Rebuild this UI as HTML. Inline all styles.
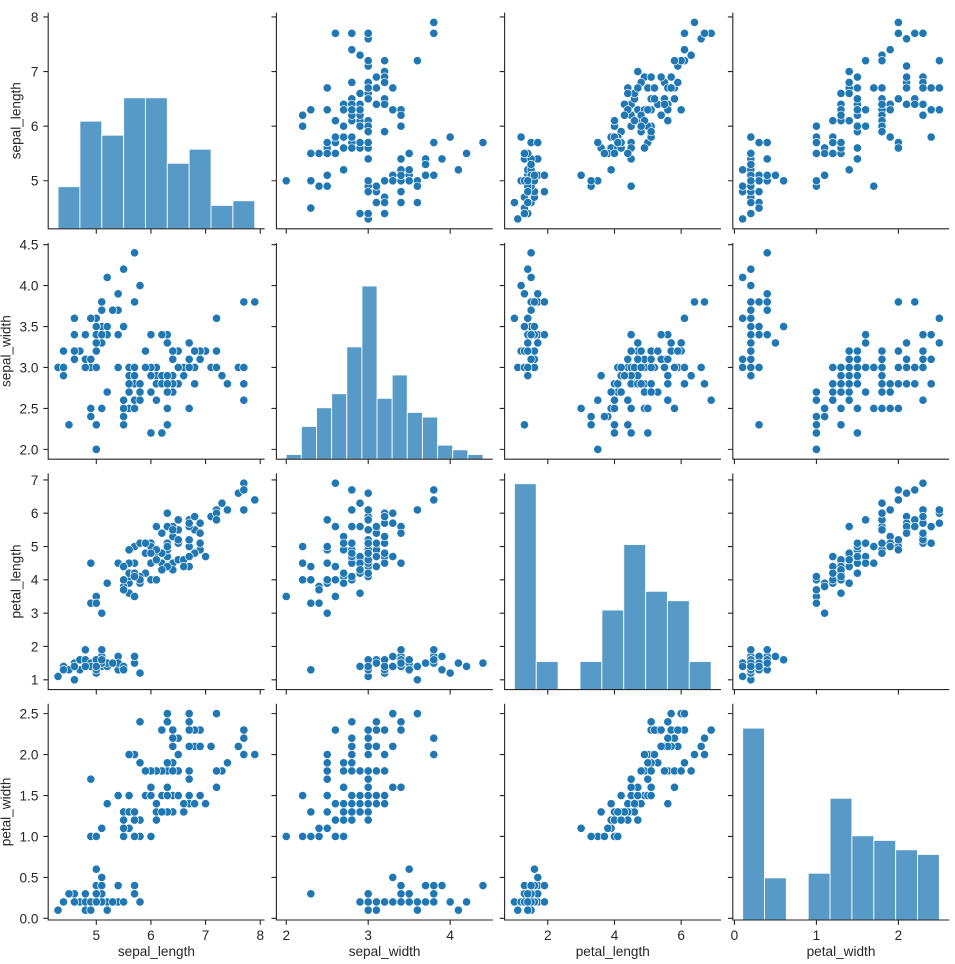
<!DOCTYPE html>
<html><head><meta charset="utf-8"><style>
html,body{margin:0;padding:0;background:#fff;}
body{width:955px;height:964px;overflow:hidden;}
svg{display:block;}
text{font-family:"Liberation Sans",Arial,sans-serif;font-size:13.6px;fill:#262626;}
</style></head><body>
<svg width="955" height="964" viewBox="0 0 955 964" xmlns="http://www.w3.org/2000/svg">
<rect width="955" height="964" fill="#fff"/>
<defs>
<marker id="m01" markerUnits="userSpaceOnUse" markerWidth="2" markerHeight="2" refX="1" refY="1" orient="0" overflow="visible"><g transform="translate(1 1) scale(0.012200 0.018316)"><circle r="4.15" fill="#1f77b4" stroke="#fff" stroke-width="0.67"/></g></marker>
<marker id="m02" markerUnits="userSpaceOnUse" markerWidth="2" markerHeight="2" refX="1" refY="1" orient="0" overflow="visible"><g transform="translate(1 1) scale(0.029990 0.018316)"><circle r="4.15" fill="#1f77b4" stroke="#fff" stroke-width="0.67"/></g></marker>
<marker id="m03" markerUnits="userSpaceOnUse" markerWidth="2" markerHeight="2" refX="1" refY="1" orient="0" overflow="visible"><g transform="translate(1 1) scale(0.012200 0.018316)"><circle r="4.15" fill="#1f77b4" stroke="#fff" stroke-width="0.67"/></g></marker>
<marker id="m12" markerUnits="userSpaceOnUse" markerWidth="2" markerHeight="2" refX="1" refY="1" orient="0" overflow="visible"><g transform="translate(1 1) scale(0.029990 0.012211)"><circle r="4.15" fill="#1f77b4" stroke="#fff" stroke-width="0.67"/></g></marker>
<marker id="m13" markerUnits="userSpaceOnUse" markerWidth="2" markerHeight="2" refX="1" refY="1" orient="0" overflow="visible"><g transform="translate(1 1) scale(0.012200 0.012211)"><circle r="4.15" fill="#1f77b4" stroke="#fff" stroke-width="0.67"/></g></marker>
<marker id="m23" markerUnits="userSpaceOnUse" markerWidth="2" markerHeight="2" refX="1" refY="1" orient="0" overflow="visible"><g transform="translate(1 1) scale(0.012200 0.030018)"><circle r="4.15" fill="#1f77b4" stroke="#fff" stroke-width="0.67"/></g></marker>
<marker id="m10" markerUnits="userSpaceOnUse" markerWidth="2" markerHeight="2" refX="1" refY="1" orient="0" overflow="visible"><g transform="translate(1 1) scale(0.012211 0.018300)"><circle r="4.15" fill="#1f77b4" stroke="#fff" stroke-width="0.67"/></g></marker>
<marker id="m20" markerUnits="userSpaceOnUse" markerWidth="2" markerHeight="2" refX="1" refY="1" orient="0" overflow="visible"><g transform="translate(1 1) scale(0.030018 0.018300)"><circle r="4.15" fill="#1f77b4" stroke="#fff" stroke-width="0.67"/></g></marker>
<marker id="m30" markerUnits="userSpaceOnUse" markerWidth="2" markerHeight="2" refX="1" refY="1" orient="0" overflow="visible"><g transform="translate(1 1) scale(0.012211 0.018300)"><circle r="4.15" fill="#1f77b4" stroke="#fff" stroke-width="0.67"/></g></marker>
<marker id="m21" markerUnits="userSpaceOnUse" markerWidth="2" markerHeight="2" refX="1" refY="1" orient="0" overflow="visible"><g transform="translate(1 1) scale(0.030018 0.012200)"><circle r="4.15" fill="#1f77b4" stroke="#fff" stroke-width="0.67"/></g></marker>
<marker id="m31" markerUnits="userSpaceOnUse" markerWidth="2" markerHeight="2" refX="1" refY="1" orient="0" overflow="visible"><g transform="translate(1 1) scale(0.012211 0.012200)"><circle r="4.15" fill="#1f77b4" stroke="#fff" stroke-width="0.67"/></g></marker>
<marker id="m32" markerUnits="userSpaceOnUse" markerWidth="2" markerHeight="2" refX="1" refY="1" orient="0" overflow="visible"><g transform="translate(1 1) scale(0.012211 0.029990)"><circle r="4.15" fill="#1f77b4" stroke="#fff" stroke-width="0.67"/></g></marker>

<polyline id="A" fill="none" stroke="none" points="3.5,5.1 3,4.9 3.2,4.7 3.1,4.6 3.6,5 3.9,5.4 3.4,4.6 3.4,5 2.9,4.4 3.1,4.9 3.7,5.4 3.4,4.8 3,4.8 3,4.3 4,5.8 4.4,5.7 3.9,5.4 3.5,5.1 3.8,5.7 3.8,5.1 3.4,5.4 3.7,5.1 3.6,4.6 3.3,5.1 3.4,4.8 3,5 3.4,5 3.5,5.2 3.4,5.2 3.2,4.7 3.1,4.8 3.4,5.4 4.1,5.2 4.2,5.5 3.1,4.9 3.2,5 3.5,5.5 3.6,4.9 3,4.4 3.4,5.1 3.5,5 2.3,4.5 3.2,4.4 3.5,5 3.8,5.1 3,4.8 3.8,5.1 3.2,4.6 3.7,5.3 3.3,5 3.2,7 3.2,6.4 3.1,6.9 2.3,5.5 2.8,6.5 2.8,5.7 3.3,6.3 2.4,4.9 2.9,6.6 2.7,5.2 2,5 3,5.9 2.2,6 2.9,6.1 2.9,5.6 3.1,6.7 3,5.6 2.7,5.8 2.2,6.2 2.5,5.6 3.2,5.9 2.8,6.1 2.5,6.3 2.8,6.1 2.9,6.4 3,6.6 2.8,6.8 3,6.7 2.9,6 2.6,5.7 2.4,5.5 2.4,5.5 2.7,5.8 2.7,6 3,5.4 3.4,6 3.1,6.7 2.3,6.3 3,5.6 2.5,5.5 2.6,5.5 3,6.1 2.6,5.8 2.3,5 2.7,5.6 3,5.7 2.9,5.7 2.9,6.2 2.5,5.1 2.8,5.7 3.3,6.3 2.7,5.8 3,7.1 2.9,6.3 3,6.5 3,7.6 2.5,4.9 2.9,7.3 2.5,6.7 3.6,7.2 3.2,6.5 2.7,6.4 3,6.8 2.5,5.7 2.8,5.8 3.2,6.4 3,6.5 3.8,7.7 2.6,7.7 2.2,6 3.2,6.9 2.8,5.6 2.8,7.7 2.7,6.3 3.3,6.7 3.2,7.2 2.8,6.2 3,6.1 2.8,6.4 3,7.2 2.8,7.4 3.8,7.9 2.8,6.4 2.8,6.3 2.6,6.1 3,7.7 3.4,6.3 3.1,6.4 3,6 3.1,6.9 3.1,6.7 3.1,6.9 2.7,5.8 3.2,6.8 3.3,6.7 3,6.7 2.5,6.3 3,6.5 3.4,6.2 3,5.9"/>

<polyline id="B" fill="none" stroke="none" points="1.4,5.1 1.4,4.9 1.3,4.7 1.5,4.6 1.4,5 1.7,5.4 1.4,4.6 1.5,5 1.4,4.4 1.5,4.9 1.5,5.4 1.6,4.8 1.4,4.8 1.1,4.3 1.2,5.8 1.5,5.7 1.3,5.4 1.4,5.1 1.7,5.7 1.5,5.1 1.7,5.4 1.5,5.1 1,4.6 1.7,5.1 1.9,4.8 1.6,5 1.6,5 1.5,5.2 1.4,5.2 1.6,4.7 1.6,4.8 1.5,5.4 1.5,5.2 1.4,5.5 1.5,4.9 1.2,5 1.3,5.5 1.4,4.9 1.3,4.4 1.5,5.1 1.3,5 1.3,4.5 1.3,4.4 1.6,5 1.9,5.1 1.4,4.8 1.6,5.1 1.4,4.6 1.5,5.3 1.4,5 4.7,7 4.5,6.4 4.9,6.9 4,5.5 4.6,6.5 4.5,5.7 4.7,6.3 3.3,4.9 4.6,6.6 3.9,5.2 3.5,5 4.2,5.9 4,6 4.7,6.1 3.6,5.6 4.4,6.7 4.5,5.6 4.1,5.8 4.5,6.2 3.9,5.6 4.8,5.9 4,6.1 4.9,6.3 4.7,6.1 4.3,6.4 4.4,6.6 4.8,6.8 5,6.7 4.5,6 3.5,5.7 3.8,5.5 3.7,5.5 3.9,5.8 5.1,6 4.5,5.4 4.5,6 4.7,6.7 4.4,6.3 4.1,5.6 4,5.5 4.4,5.5 4.6,6.1 4,5.8 3.3,5 4.2,5.6 4.2,5.7 4.2,5.7 4.3,6.2 3,5.1 4.1,5.7 6,6.3 5.1,5.8 5.9,7.1 5.6,6.3 5.8,6.5 6.6,7.6 4.5,4.9 6.3,7.3 5.8,6.7 6.1,7.2 5.1,6.5 5.3,6.4 5.5,6.8 5,5.7 5.1,5.8 5.3,6.4 5.5,6.5 6.7,7.7 6.9,7.7 5,6 5.7,6.9 4.9,5.6 6.7,7.7 4.9,6.3 5.7,6.7 6,7.2 4.8,6.2 4.9,6.1 5.6,6.4 5.8,7.2 6.1,7.4 6.4,7.9 5.6,6.4 5.1,6.3 5.6,6.1 6.1,7.7 5.6,6.3 5.5,6.4 4.8,6 5.4,6.9 5.6,6.7 5.1,6.9 5.1,5.8 5.9,6.8 5.7,6.7 5.2,6.7 5,6.3 5.2,6.5 5.4,6.2 5.1,5.9"/>

<polyline id="C" fill="none" stroke="none" points=".2,5.1 .2,4.9 .2,4.7 .2,4.6 .2,5 .4,5.4 .3,4.6 .2,5 .2,4.4 .1,4.9 .2,5.4 .2,4.8 .1,4.8 .1,4.3 .2,5.8 .4,5.7 .4,5.4 .3,5.1 .3,5.7 .3,5.1 .2,5.4 .4,5.1 .2,4.6 .5,5.1 .2,4.8 .2,5 .4,5 .2,5.2 .2,5.2 .2,4.7 .2,4.8 .4,5.4 .1,5.2 .2,5.5 .2,4.9 .2,5 .2,5.5 .1,4.9 .2,4.4 .2,5.1 .3,5 .3,4.5 .2,4.4 .6,5 .4,5.1 .3,4.8 .2,5.1 .2,4.6 .2,5.3 .2,5 1.4,7 1.5,6.4 1.5,6.9 1.3,5.5 1.5,6.5 1.3,5.7 1.6,6.3 1,4.9 1.3,6.6 1.4,5.2 1,5 1.5,5.9 1,6 1.4,6.1 1.3,5.6 1.4,6.7 1.5,5.6 1,5.8 1.5,6.2 1.1,5.6 1.8,5.9 1.3,6.1 1.5,6.3 1.2,6.1 1.3,6.4 1.4,6.6 1.4,6.8 1.7,6.7 1.5,6 1,5.7 1.1,5.5 1,5.5 1.2,5.8 1.6,6 1.5,5.4 1.6,6 1.5,6.7 1.3,6.3 1.3,5.6 1.3,5.5 1.2,5.5 1.4,6.1 1.2,5.8 1,5 1.3,5.6 1.2,5.7 1.3,5.7 1.3,6.2 1.1,5.1 1.3,5.7 2.5,6.3 1.9,5.8 2.1,7.1 1.8,6.3 2.2,6.5 2.1,7.6 1.7,4.9 1.8,7.3 1.8,6.7 2.5,7.2 2,6.5 1.9,6.4 2.1,6.8 2,5.7 2.4,5.8 2.3,6.4 1.8,6.5 2.2,7.7 2.3,7.7 1.5,6 2.3,6.9 2,5.6 2,7.7 1.8,6.3 2.1,6.7 1.8,7.2 1.8,6.2 1.8,6.1 2.1,6.4 1.6,7.2 1.9,7.4 2,7.9 2.2,6.4 1.5,6.3 1.4,6.1 2.3,7.7 2.4,6.3 1.8,6.4 1.8,6 2.1,6.9 2.4,6.7 2.3,6.9 1.9,5.8 2.3,6.8 2.5,6.7 2.3,6.7 1.9,6.3 2,6.5 2.3,6.2 1.8,5.9"/>

<polyline id="D" fill="none" stroke="none" points="1.4,3.5 1.4,3 1.3,3.2 1.5,3.1 1.4,3.6 1.7,3.9 1.4,3.4 1.5,3.4 1.4,2.9 1.5,3.1 1.5,3.7 1.6,3.4 1.4,3 1.1,3 1.2,4 1.5,4.4 1.3,3.9 1.4,3.5 1.7,3.8 1.5,3.8 1.7,3.4 1.5,3.7 1,3.6 1.7,3.3 1.9,3.4 1.6,3 1.6,3.4 1.5,3.5 1.4,3.4 1.6,3.2 1.6,3.1 1.5,3.4 1.5,4.1 1.4,4.2 1.5,3.1 1.2,3.2 1.3,3.5 1.4,3.6 1.3,3 1.5,3.4 1.3,3.5 1.3,2.3 1.3,3.2 1.6,3.5 1.9,3.8 1.4,3 1.6,3.8 1.4,3.2 1.5,3.7 1.4,3.3 4.7,3.2 4.5,3.2 4.9,3.1 4,2.3 4.6,2.8 4.5,2.8 4.7,3.3 3.3,2.4 4.6,2.9 3.9,2.7 3.5,2 4.2,3 4,2.2 4.7,2.9 3.6,2.9 4.4,3.1 4.5,3 4.1,2.7 4.5,2.2 3.9,2.5 4.8,3.2 4,2.8 4.9,2.5 4.7,2.8 4.3,2.9 4.4,3 4.8,2.8 5,3 4.5,2.9 3.5,2.6 3.8,2.4 3.7,2.4 3.9,2.7 5.1,2.7 4.5,3 4.5,3.4 4.7,3.1 4.4,2.3 4.1,3 4,2.5 4.4,2.6 4.6,3 4,2.6 3.3,2.3 4.2,2.7 4.2,3 4.2,2.9 4.3,2.9 3,2.5 4.1,2.8 6,3.3 5.1,2.7 5.9,3 5.6,2.9 5.8,3 6.6,3 4.5,2.5 6.3,2.9 5.8,2.5 6.1,3.6 5.1,3.2 5.3,2.7 5.5,3 5,2.5 5.1,2.8 5.3,3.2 5.5,3 6.7,3.8 6.9,2.6 5,2.2 5.7,3.2 4.9,2.8 6.7,2.8 4.9,2.7 5.7,3.3 6,3.2 4.8,2.8 4.9,3 5.6,2.8 5.8,3 6.1,2.8 6.4,3.8 5.6,2.8 5.1,2.8 5.6,2.6 6.1,3 5.6,3.4 5.5,3.1 4.8,3 5.4,3.1 5.6,3.1 5.1,3.1 5.1,2.7 5.9,3.2 5.7,3.3 5.2,3 5,2.5 5.2,3 5.4,3.4 5.1,3"/>

<polyline id="E" fill="none" stroke="none" points=".2,3.5 .2,3 .2,3.2 .2,3.1 .2,3.6 .4,3.9 .3,3.4 .2,3.4 .2,2.9 .1,3.1 .2,3.7 .2,3.4 .1,3 .1,3 .2,4 .4,4.4 .4,3.9 .3,3.5 .3,3.8 .3,3.8 .2,3.4 .4,3.7 .2,3.6 .5,3.3 .2,3.4 .2,3 .4,3.4 .2,3.5 .2,3.4 .2,3.2 .2,3.1 .4,3.4 .1,4.1 .2,4.2 .2,3.1 .2,3.2 .2,3.5 .1,3.6 .2,3 .2,3.4 .3,3.5 .3,2.3 .2,3.2 .6,3.5 .4,3.8 .3,3 .2,3.8 .2,3.2 .2,3.7 .2,3.3 1.4,3.2 1.5,3.2 1.5,3.1 1.3,2.3 1.5,2.8 1.3,2.8 1.6,3.3 1,2.4 1.3,2.9 1.4,2.7 1,2 1.5,3 1,2.2 1.4,2.9 1.3,2.9 1.4,3.1 1.5,3 1,2.7 1.5,2.2 1.1,2.5 1.8,3.2 1.3,2.8 1.5,2.5 1.2,2.8 1.3,2.9 1.4,3 1.4,2.8 1.7,3 1.5,2.9 1,2.6 1.1,2.4 1,2.4 1.2,2.7 1.6,2.7 1.5,3 1.6,3.4 1.5,3.1 1.3,2.3 1.3,3 1.3,2.5 1.2,2.6 1.4,3 1.2,2.6 1,2.3 1.3,2.7 1.2,3 1.3,2.9 1.3,2.9 1.1,2.5 1.3,2.8 2.5,3.3 1.9,2.7 2.1,3 1.8,2.9 2.2,3 2.1,3 1.7,2.5 1.8,2.9 1.8,2.5 2.5,3.6 2,3.2 1.9,2.7 2.1,3 2,2.5 2.4,2.8 2.3,3.2 1.8,3 2.2,3.8 2.3,2.6 1.5,2.2 2.3,3.2 2,2.8 2,2.8 1.8,2.7 2.1,3.3 1.8,3.2 1.8,2.8 1.8,3 2.1,2.8 1.6,3 1.9,2.8 2,3.8 2.2,2.8 1.5,2.8 1.4,2.6 2.3,3 2.4,3.4 1.8,3.1 1.8,3 2.1,3.1 2.4,3.1 2.3,3.1 1.9,2.7 2.3,3.2 2.5,3.3 2.3,3 1.9,2.5 2,3 2.3,3.4 1.8,3"/>

<polyline id="F" fill="none" stroke="none" points=".2,1.4 .2,1.4 .2,1.3 .2,1.5 .2,1.4 .4,1.7 .3,1.4 .2,1.5 .2,1.4 .1,1.5 .2,1.5 .2,1.6 .1,1.4 .1,1.1 .2,1.2 .4,1.5 .4,1.3 .3,1.4 .3,1.7 .3,1.5 .2,1.7 .4,1.5 .2,1 .5,1.7 .2,1.9 .2,1.6 .4,1.6 .2,1.5 .2,1.4 .2,1.6 .2,1.6 .4,1.5 .1,1.5 .2,1.4 .2,1.5 .2,1.2 .2,1.3 .1,1.4 .2,1.3 .2,1.5 .3,1.3 .3,1.3 .2,1.3 .6,1.6 .4,1.9 .3,1.4 .2,1.6 .2,1.4 .2,1.5 .2,1.4 1.4,4.7 1.5,4.5 1.5,4.9 1.3,4 1.5,4.6 1.3,4.5 1.6,4.7 1,3.3 1.3,4.6 1.4,3.9 1,3.5 1.5,4.2 1,4 1.4,4.7 1.3,3.6 1.4,4.4 1.5,4.5 1,4.1 1.5,4.5 1.1,3.9 1.8,4.8 1.3,4 1.5,4.9 1.2,4.7 1.3,4.3 1.4,4.4 1.4,4.8 1.7,5 1.5,4.5 1,3.5 1.1,3.8 1,3.7 1.2,3.9 1.6,5.1 1.5,4.5 1.6,4.5 1.5,4.7 1.3,4.4 1.3,4.1 1.3,4 1.2,4.4 1.4,4.6 1.2,4 1,3.3 1.3,4.2 1.2,4.2 1.3,4.2 1.3,4.3 1.1,3 1.3,4.1 2.5,6 1.9,5.1 2.1,5.9 1.8,5.6 2.2,5.8 2.1,6.6 1.7,4.5 1.8,6.3 1.8,5.8 2.5,6.1 2,5.1 1.9,5.3 2.1,5.5 2,5 2.4,5.1 2.3,5.3 1.8,5.5 2.2,6.7 2.3,6.9 1.5,5 2.3,5.7 2,4.9 2,6.7 1.8,4.9 2.1,5.7 1.8,6 1.8,4.8 1.8,4.9 2.1,5.6 1.6,5.8 1.9,6.1 2,6.4 2.2,5.6 1.5,5.1 1.4,5.6 2.3,6.1 2.4,5.6 1.8,5.5 1.8,4.8 2.1,5.4 2.4,5.6 2.3,5.1 1.9,5.1 2.3,5.9 2.5,5.7 2.3,5.2 1.9,5 2,5.2 2.3,5.4 1.8,5.1"/>

<path id="xt" d="M96.29 0v4.9M150.94 0v4.9M205.58 0v4.9M260.23 0v4.9M286.24 0v4.9M368.21 0v4.9M450.18 0v4.9M547.78 0v4.9M614.47 0v4.9M681.15 0v4.9M734.44 0v4.9M816.41 0v4.9M898.38 0v4.9"/>
<path id="yt" d="M43.3 180.76h4.9M43.3 126.16h4.9M43.3 71.57h4.9M43.3 16.97h4.9M43.3 449.37h4.9M43.3 408.43h4.9M43.3 367.48h4.9M43.3 326.53h4.9M43.3 285.58h4.9M43.3 244.64h4.9M43.3 679.78h4.9M43.3 646.46h4.9M43.3 613.15h4.9M43.3 579.84h4.9M43.3 546.53h4.9M43.3 513.21h4.9M43.3 479.9h4.9M43.3 918.36h4.9M43.3 877.41h4.9M43.3 836.47h4.9M43.3 795.52h4.9M43.3 754.57h4.9M43.3 713.63h4.9"/>
</defs>

<g fill="#5799c7" stroke="#ffffff" stroke-width="1" stroke-opacity="0.85">
<rect x="58.04" y="186.68" width="21.86" height="42.12"/>
<rect x="79.90" y="121.17" width="21.86" height="107.63"/>
<rect x="101.76" y="135.21" width="21.86" height="93.59"/>
<rect x="123.62" y="97.77" width="21.86" height="131.03"/>
<rect x="145.47" y="97.77" width="21.86" height="131.03"/>
<rect x="167.33" y="163.28" width="21.86" height="65.52"/>
<rect x="189.19" y="149.24" width="21.86" height="79.56"/>
<rect x="211.05" y="205.40" width="21.86" height="23.40"/>
<rect x="232.90" y="200.72" width="21.86" height="28.08"/>

<rect x="286.24" y="454.52" width="15.13" height="4.68"/>
<rect x="301.37" y="426.44" width="15.13" height="32.76"/>
<rect x="316.51" y="407.72" width="15.13" height="51.48"/>
<rect x="331.64" y="393.68" width="15.13" height="65.52"/>
<rect x="346.77" y="346.88" width="15.13" height="112.32"/>
<rect x="361.91" y="286.04" width="15.13" height="173.16"/>
<rect x="377.04" y="398.36" width="15.13" height="60.84"/>
<rect x="392.17" y="374.96" width="15.13" height="84.24"/>
<rect x="407.31" y="412.40" width="15.13" height="46.80"/>
<rect x="422.44" y="417.08" width="15.13" height="42.12"/>
<rect x="437.57" y="445.16" width="15.13" height="14.04"/>
<rect x="452.70" y="449.84" width="15.13" height="9.36"/>
<rect x="467.84" y="454.52" width="15.13" height="4.68"/>

<rect x="514.43" y="483.68" width="21.86" height="205.92"/>
<rect x="536.29" y="661.52" width="21.86" height="28.08"/>
<rect x="580.01" y="661.52" width="21.86" height="28.08"/>
<rect x="601.87" y="610.04" width="21.86" height="79.56"/>
<rect x="623.73" y="544.52" width="21.86" height="145.08"/>
<rect x="645.58" y="591.32" width="21.86" height="98.28"/>
<rect x="667.44" y="600.68" width="21.86" height="88.92"/>
<rect x="689.30" y="661.52" width="21.86" height="28.08"/>

<rect x="742.64" y="728.12" width="21.86" height="191.88"/>
<rect x="764.50" y="877.88" width="21.86" height="42.12"/>
<rect x="808.22" y="873.20" width="21.86" height="46.80"/>
<rect x="830.07" y="798.32" width="21.86" height="121.68"/>
<rect x="851.93" y="835.76" width="21.86" height="84.24"/>
<rect x="873.79" y="840.44" width="21.86" height="79.56"/>
<rect x="895.65" y="849.80" width="21.86" height="70.20"/>
<rect x="917.51" y="854.48" width="21.86" height="65.52"/>
</g>

<use href="#A" transform="matrix(81.970 0 0 -54.596 122.30 453.74)" style="marker-start:url(#m01);marker-mid:url(#m01);marker-end:url(#m01)"/>
<use href="#B" transform="matrix(33.344 0 0 -54.596 481.09 453.74)" style="marker-start:url(#m02);marker-mid:url(#m02);marker-end:url(#m02)"/>
<use href="#C" transform="matrix(81.970 0 0 -54.596 734.44 453.74)" style="marker-start:url(#m03);marker-mid:url(#m03);marker-end:url(#m03)"/>
<use href="#D" transform="matrix(33.344 0 0 -81.894 481.09 613.16)" style="marker-start:url(#m12);marker-mid:url(#m12);marker-end:url(#m12)"/>
<use href="#E" transform="matrix(81.970 0 0 -81.894 734.44 613.16)" style="marker-start:url(#m13);marker-mid:url(#m13);marker-end:url(#m13)"/>
<use href="#F" transform="matrix(81.970 0 0 -33.313 734.44 713.09)" style="marker-start:url(#m23);marker-mid:url(#m23);marker-end:url(#m23)"/>
<use href="#A" transform="matrix(0 -81.894 54.646 0 -176.94 613.16)" style="marker-start:url(#m10);marker-mid:url(#m10);marker-end:url(#m10)"/>
<use href="#B" transform="matrix(0 -33.313 54.646 0 -176.94 713.09)" style="marker-start:url(#m20);marker-mid:url(#m20);marker-end:url(#m20)"/>
<use href="#C" transform="matrix(0 -81.894 54.646 0 -176.94 918.36)" style="marker-start:url(#m30);marker-mid:url(#m30);marker-end:url(#m30)"/>
<use href="#D" transform="matrix(0 -33.313 81.970 0 122.30 713.09)" style="marker-start:url(#m21);marker-mid:url(#m21);marker-end:url(#m21)"/>
<use href="#E" transform="matrix(0 -81.894 81.970 0 122.30 918.36)" style="marker-start:url(#m31);marker-mid:url(#m31);marker-end:url(#m31)"/>
<use href="#F" transform="matrix(0 -81.894 33.344 0 481.09 918.36)" style="marker-start:url(#m32);marker-mid:url(#m32);marker-end:url(#m32)"/>

<g fill="none" stroke="#262626" stroke-width="1.1">
<path d="M48.2 12.6V228.8H264.6M276.4 12.6V228.8H492.8M504.6 12.6V228.8H721M732.8 12.6V228.8H949.2
M48.2 243V459.2H264.6M276.4 243V459.2H492.8M504.6 243V459.2H721M732.8 243V459.2H949.2
M48.2 473.4V689.6H264.6M276.4 473.4V689.6H492.8M504.6 473.4V689.6H721M732.8 473.4V689.6H949.2
M48.2 703.8V920H264.6M276.4 703.8V920H492.8M504.6 703.8V920H721M732.8 703.8V920H949.2"/>
<use href="#xt" transform="translate(0 228.8)"/>
<use href="#xt" transform="translate(0 459.2)"/>
<use href="#xt" transform="translate(0 689.6)"/>
<use href="#xt" transform="translate(0 920)"/>
<use href="#yt"/>
<use href="#yt" transform="translate(228.2 0)"/>
<use href="#yt" transform="translate(456.4 0)"/>
<use href="#yt" transform="translate(684.6 0)"/>
</g>

<g text-anchor="end">
<text x="38.4" y="185.66">5</text>
<text x="38.4" y="131.06">6</text>
<text x="38.4" y="76.47">7</text>
<text x="38.4" y="21.87">8</text>
<text x="38.4" y="454.27">2.0</text>
<text x="38.4" y="413.33">2.5</text>
<text x="38.4" y="372.38">3.0</text>
<text x="38.4" y="331.43">3.5</text>
<text x="38.4" y="290.48">4.0</text>
<text x="38.4" y="249.54">4.5</text>
<text x="38.4" y="684.68">1</text>
<text x="38.4" y="651.36">2</text>
<text x="38.4" y="618.05">3</text>
<text x="38.4" y="584.74">4</text>
<text x="38.4" y="551.43">5</text>
<text x="38.4" y="518.11">6</text>
<text x="38.4" y="484.8">7</text>
<text x="38.4" y="923.26">0.0</text>
<text x="38.4" y="882.31">0.5</text>
<text x="38.4" y="841.37">1.0</text>
<text x="38.4" y="800.42">1.5</text>
<text x="38.4" y="759.47">2.0</text>
<text x="38.4" y="718.53">2.5</text>
</g>

<g text-anchor="middle">
<text x="96.29" y="940">5</text>
<text x="150.94" y="940">6</text>
<text x="205.58" y="940">7</text>
<text x="260.23" y="940">8</text>
<text x="286.24" y="940">2</text>
<text x="368.21" y="940">3</text>
<text x="450.18" y="940">4</text>
<text x="547.78" y="940">2</text>
<text x="614.47" y="940">4</text>
<text x="681.15" y="940">6</text>
<text x="734.44" y="940">0</text>
<text x="816.41" y="940">1</text>
<text x="898.38" y="940">2</text>
</g>

<g text-anchor="middle">
<text x="156.4" y="956">sepal_length</text>
<text x="384.6" y="956">sepal_width</text>
<text x="612.8" y="956">petal_length</text>
<text x="841" y="956">petal_width</text>
<text transform="translate(20.5 120.7) rotate(-90)">sepal_length</text>
<text transform="translate(10.5 351.1) rotate(-90)">sepal_width</text>
<text transform="translate(20.5 581.5) rotate(-90)">petal_length</text>
<text transform="translate(10.5 811.9) rotate(-90)">petal_width</text>
</g>
</svg>
</body></html>
